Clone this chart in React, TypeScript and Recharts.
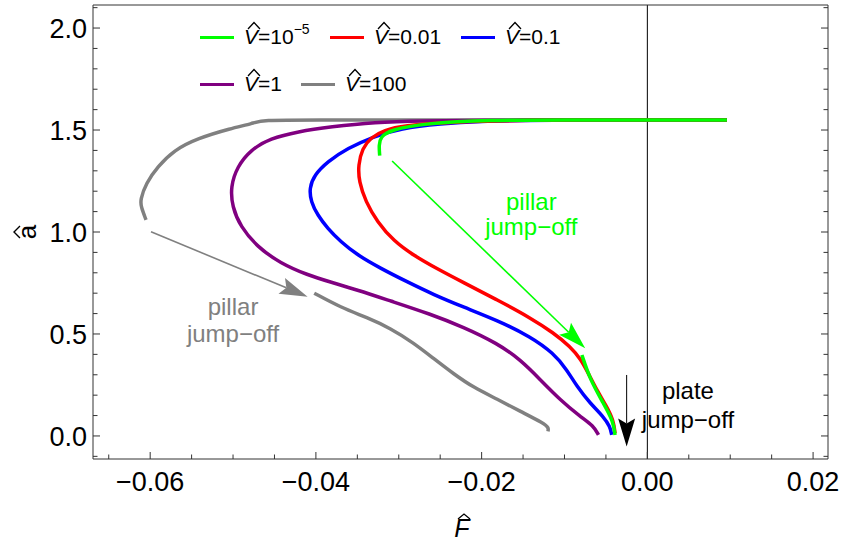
import React from "react";
import {
  LineChart,
  Line,
  XAxis,
  YAxis,
  ReferenceLine,
  ReferenceDot,
  Legend,
} from "recharts";

type Pt = [number, number];

// F-hat (x), a-hat (y)
const v100Upper: Pt[] = [
  [0.0096, 1.549], [0, 1.549], [-0.01, 1.549], [-0.02, 1.549], [-0.03, 1.549],
  [-0.04, 1.549], [-0.0467, 1.549], [-0.0475, 1.533], [-0.0503, 1.508],
  [-0.0543, 1.459], [-0.0571, 1.402], [-0.0591, 1.32], [-0.0605, 1.239],
  [-0.0612, 1.157], [-0.0611, 1.124], [-0.0605, 1.059],
];
const v100Lower: Pt[] = [
  [-0.0402, 0.7], [-0.037, 0.63], [-0.0338, 0.58], [-0.031, 0.528],
  [-0.0282, 0.456], [-0.0258, 0.38], [-0.0234, 0.305], [-0.021, 0.238],
  [-0.0181, 0.18], [-0.0153, 0.12], [-0.0125, 0.062], [-0.0119, 0.04],
  [-0.012, 0.022],
];
const v1Pts: Pt[] = [
  [0.0096, 1.549], [0, 1.549], [-0.01, 1.549], [-0.02, 1.548], [-0.027, 1.545],
  [-0.033, 1.539], [-0.0382, 1.516], [-0.0422, 1.492], [-0.0455, 1.459],
  [-0.0479, 1.402], [-0.0495, 1.32], [-0.0503, 1.222], [-0.0501, 1.124],
  [-0.0491, 1.026], [-0.0471, 0.928], [-0.0443, 0.847], [-0.041, 0.789],
  [-0.0382, 0.754], [-0.035, 0.716], [-0.031, 0.662], [-0.0262, 0.598],
  [-0.0222, 0.534], [-0.0181, 0.454], [-0.0153, 0.373], [-0.0129, 0.275],
  [-0.0105, 0.176], [-0.0081, 0.095], [-0.0065, 0.05], [-0.0059, 0.005],
];
const v01Pts: Pt[] = [
  [0.0096, 1.549], [0, 1.549], [-0.008, 1.549], [-0.015, 1.547], [-0.02, 1.544],
  [-0.025, 1.531], [-0.0298, 1.508], [-0.033, 1.469], [-0.0362, 1.41],
  [-0.0386, 1.345], [-0.0402, 1.279], [-0.0408, 1.214], [-0.0406, 1.149],
  [-0.0398, 1.083], [-0.0386, 1.018], [-0.037, 0.952], [-0.035, 0.887],
  [-0.0322, 0.822], [-0.029, 0.756], [-0.0258, 0.693], [-0.0222, 0.632],
  [-0.0181, 0.567], [-0.0141, 0.487], [-0.0113, 0.405], [-0.0097, 0.324],
  [-0.0085, 0.242], [-0.0069, 0.16], [-0.0053, 0.095], [-0.0045, 0.046],
  [-0.0043, 0.005],
];
const v001Pts: Pt[] = [
  [0.0096, 1.549], [0, 1.549], [-0.008, 1.549], [-0.014, 1.548], [-0.02, 1.543],
  [-0.025, 1.535], [-0.0292, 1.522], [-0.0318, 1.5], [-0.0334, 1.462],
  [-0.0344, 1.41], [-0.0349, 1.328], [-0.0348, 1.247], [-0.034, 1.149],
  [-0.0326, 1.05], [-0.0306, 0.955], [-0.0282, 0.885], [-0.0254, 0.82],
  [-0.0222, 0.752], [-0.0181, 0.667], [-0.0141, 0.579], [-0.0113, 0.505],
  [-0.0093, 0.438], [-0.008, 0.375], [-0.0071, 0.305], [-0.0061, 0.225],
  [-0.0049, 0.144], [-0.0041, 0.078], [-0.0039, 0.013],
];
const v1e5Upper: Pt[] = [
  [0.0096, 1.549], [0, 1.549], [-0.01, 1.549], [-0.019, 1.549], [-0.027, 1.533],
  [-0.031, 1.5], [-0.0322, 1.467], [-0.0324, 1.426], [-0.0323, 1.374],
];
const v1e5Lower: Pt[] = [
  [-0.0079, 0.397], [-0.0069, 0.275], [-0.0053, 0.16], [-0.0041, 0.07],
  [-0.0039, 0.005],
];

const xTicks = [
  -0.065, -0.06, -0.055, -0.05, -0.045, -0.04, -0.035, -0.03, -0.025, -0.02,
  -0.015, -0.01, -0.005, 0, 0.005, 0.01, 0.015, 0.02,
];
const yTicks = [
  -0.1, 0, 0.1, 0.2, 0.3, 0.4, 0.5, 0.6, 0.7, 0.8, 0.9, 1, 1.1, 1.2, 1.3, 1.4,
  1.5, 1.6, 1.7, 1.8, 1.9, 2, 2.1,
];
const xMajor = [-0.06, -0.04, -0.02, 0, 0.02];
const yMajor = [0, 0.5, 1, 1.5, 2];

// arrows: [from, to]
const greenArrow: Pt[] = [[-0.0308, 1.348], [-0.0075, 0.43]];
const grayArrow: Pt[] = [[-0.0599, 1.001], [-0.041, 0.683]];
const plateArrow: Pt[] = [[-0.0025, 0.299], [-0.0025, -0.052]];

const GREEN = "#00ff00";
const RED = "#ff0000";
const BLUE = "#0000ff";
const PURPLE = "#800080";
const GRAY = "#808080";
const FRAME = "#333";
const FONT = "'Liberation Sans', Arial, sans-serif";

// draw order: gray at the bottom, green on top
const series = [
  { name: "100", color: GRAY, segs: [v100Upper, v100Lower] },
  { name: "1", color: PURPLE, segs: [v1Pts] },
  { name: "0.1", color: BLUE, segs: [v01Pts] },
  { name: "0.01", color: RED, segs: [v001Pts] },
  { name: "10^-5", color: GREEN, segs: [v1e5Upper, v1e5Lower] },
];

const legendLayout = [
  { base: "10", sup: "\u22125", color: GREEN, x: 200, y: 37 },
  { base: "0.01", sup: "", color: RED, x: 330, y: 37 },
  { base: "0.1", sup: "", color: BLUE, x: 461, y: 37 },
  { base: "1", sup: "", color: PURPLE, x: 200, y: 84 },
  { base: "100", sup: "", color: GRAY, x: 301, y: 84 },
];

const toRows = (segs: Pt[][]) =>
  segs.flatMap((seg, i) => [
    ...(i > 0 ? [{ F: seg[0][0], a: null as number | null }] : []),
    ...seg.map(([F, a]) => ({ F, a: a as number | null })),
  ]);

const isMajor = (v: number, list: number[]) =>
  list.some((m) => Math.abs(m - v) < 1e-9);

const fmtX = (v: number) => {
  if (Math.abs(v) < 1e-9) return "0.00";
  const s = Math.abs(v).toFixed(2);
  return v < 0 ? "\u2212" + s : s;
};

const BottomTick = (p: any) => {
  const v = p.payload.value;
  const major = isMajor(v, xMajor);
  return (
    <g>
      <line x1={p.x} x2={p.x} y1={p.y} y2={p.y - (major ? 7 : 4.5)} stroke={FRAME} />
      {major && (
        <text x={p.x} y={p.y + 32} textAnchor="middle" fontSize={27} fontFamily={FONT} fill="#000">
          {fmtX(v)}
        </text>
      )}
    </g>
  );
};

const TopTick = (p: any) => {
  const major = isMajor(p.payload.value, xMajor);
  return <line x1={p.x} x2={p.x} y1={p.y} y2={p.y + (major ? 7 : 4.5)} stroke={FRAME} />;
};

const LeftTick = (p: any) => {
  const v = p.payload.value;
  const major = isMajor(v, yMajor);
  return (
    <g>
      <line x1={p.x} x2={p.x + (major ? 7 : 4.5)} y1={p.y} y2={p.y} stroke={FRAME} />
      {major && (
        <text x={p.x - 6} y={p.y + 10} textAnchor="end" fontSize={27} fontFamily={FONT} fill="#000">
          {v.toFixed(1)}
        </text>
      )}
    </g>
  );
};

const RightTick = (p: any) => {
  const major = isMajor(p.payload.value, yMajor);
  return <line x1={p.x} x2={p.x - (major ? 7 : 4.5)} y1={p.y} y2={p.y} stroke={FRAME} />;
};

const arrowShape = (color: string, width: number) => (p: any) => {
  const { x1, y1, x2, y2 } = p;
  const dx = x2 - x1;
  const dy = y2 - y1;
  const len = Math.hypot(dx, dy) || 1;
  const ux = dx / len;
  const uy = dy / len;
  const hl = 28;
  const hw = 8.5;
  const notch = 5;
  const bx = x2 - ux * hl;
  const by = y2 - uy * hl;
  const nx = -uy;
  const ny = ux;
  const pts = [
    [x2, y2],
    [bx + nx * hw, by + ny * hw],
    [bx + ux * notch, by + uy * notch],
    [bx - nx * hw, by - ny * hw],
  ]
    .map((q) => q.join(","))
    .join(" ");
  return (
    <g>
      <line x1={x1} y1={y1} x2={bx + ux * notch} y2={by + uy * notch} stroke={color} strokeWidth={width} />
      <polygon points={pts} fill={color} />
    </g>
  );
};

const textBlock = (lines: string[], color: string, gap: number) => (p: any) => (
  <g>
    {lines.map((t, i) => (
      <text
        key={i}
        x={p.cx}
        y={p.cy + i * gap}
        textAnchor="middle"
        fontSize={24}
        fontFamily={FONT}
        fill={color}
      >
        {t}
      </text>
    ))}
  </g>
);

const HatV = () => (
  <span style={{ position: "relative", fontStyle: "italic" }}>
    V
    <svg
      width={14}
      height={9}
      style={{ position: "absolute", left: 3, top: -4, overflow: "visible" }}
    >
      <polyline points="1,8 7,1.5 13,8" fill="none" stroke="#000" strokeWidth={1.3} />
    </svg>
  </span>
);

const LegendBox = () => (
  <div style={{ position: "relative", width: 843, height: 110, fontFamily: FONT }}>
    {legendLayout.map((it, i) => (
      <div
        key={i}
        style={{
          position: "absolute",
          left: it.x,
          top: it.y - 14,
          height: 28,
          display: "flex",
          alignItems: "center",
          fontSize: 21,
          color: "#000",
          whiteSpace: "nowrap",
        }}
      >
        <span style={{ display: "inline-block", width: 34, height: 3, background: it.color, marginRight: 10 }} />
        <HatV />
        <span>={it.base}</span>
        {it.sup && (
          <span style={{ fontSize: 14, position: "relative", top: -8 }}>{it.sup}</span>
        )}
      </div>
    ))}
  </div>
);

const xLabel = (p: any) => {
  const vb = p.viewBox;
  const cx = vb.x + 369;
  const by = vb.y + 78;
  return (
    <g>
      <text x={cx} y={by} textAnchor="middle" fontSize={25} fontStyle="italic" fontFamily={FONT} fill="#000">
        F
      </text>
      <polyline
        points={`${cx - 4},${by - 18} ${cx + 2},${by - 23} ${cx + 8},${by - 18}`}
        fill="none"
        stroke="#000"
        strokeWidth={1.3}
      />
    </g>
  );
};

const yLabel = (p: any) => {
  const vb = p.viewBox;
  const cx = vb.x + 29;
  const cy = vb.y + vb.height / 2;
  return (
    <g transform={`translate(${cx},${cy}) rotate(-90)`}>
      <text x={0} y={7} textAnchor="middle" fontSize={26} fontFamily={FONT} fill="#000">
        a
      </text>
      <polyline points="-6,-9 0,-15 6,-9" fill="none" stroke="#000" strokeWidth={1.4} />
    </g>
  );
};

export default function App() {
  return (
    <div style={{ position: "absolute", left: 0, top: 0, background: "#fff" }}>
      <LineChart width={843} height={541} margin={{ top: 0, right: 0, bottom: 0, left: 0 }}>
        <XAxis
          dataKey="F"
          type="number"
          domain={[-0.0669, 0.0218]}
          allowDataOverflow
          ticks={xTicks}
          interval={0}
          tickSize={0}
          tickMargin={0}
          tickLine={false}
          tick={BottomTick}
          stroke={FRAME}
          height={82}
          label={xLabel}
        />
        <XAxis
          xAxisId="top"
          orientation="top"
          type="number"
          domain={[-0.0669, 0.0218]}
          allowDataOverflow
          ticks={xTicks}
          interval={0}
          tickSize={0}
          tickMargin={0}
          tickLine={false}
          tick={TopTick}
          stroke={FRAME}
          height={5}
        />
        <YAxis
          type="number"
          domain={[-0.113, 2.113]}
          allowDataOverflow
          ticks={yTicks}
          interval={0}
          tickSize={0}
          tickMargin={0}
          tickLine={false}
          tick={LeftTick}
          stroke={FRAME}
          width={93}
          label={yLabel}
        />
        <YAxis
          yAxisId="right"
          orientation="right"
          type="number"
          domain={[-0.113, 2.113]}
          allowDataOverflow
          ticks={yTicks}
          interval={0}
          tickSize={0}
          tickMargin={0}
          tickLine={false}
          tick={RightTick}
          stroke={FRAME}
          width={15}
        />
        <ReferenceLine x={0} stroke="#000" strokeWidth={1} />
        {series.map((s) => (
          <Line
            key={s.name}
            name={s.name}
            data={toRows(s.segs)}
            dataKey="a"
            type="basis"
            stroke={s.color}
            strokeWidth={3.5}
            dot={false}
            activeDot={false}
            connectNulls={false}
            isAnimationActive={false}
          />
        ))}
        <ReferenceLine
          segment={[{ x: greenArrow[0][0], y: greenArrow[0][1] }, { x: greenArrow[1][0], y: greenArrow[1][1] }]}
          shape={arrowShape(GREEN, 1.6)}
        />
        <ReferenceLine
          segment={[{ x: grayArrow[0][0], y: grayArrow[0][1] }, { x: grayArrow[1][0], y: grayArrow[1][1] }]}
          shape={arrowShape(GRAY, 1.6)}
        />
        <ReferenceLine
          segment={[{ x: plateArrow[0][0], y: plateArrow[0][1] }, { x: plateArrow[1][0], y: plateArrow[1][1] }]}
          shape={arrowShape("#000", 1)}
        />
        <ReferenceDot x={-0.014} y={1.108} r={0} shape={textBlock(["pillar", "jump\u2212off"], GREEN, 25)} />
        <ReferenceDot x={-0.05} y={0.593} r={0} shape={textBlock(["pillar", "jump\u2212off"], GRAY, 27)} />
        <ReferenceDot x={0.0049} y={0.18} r={0} shape={textBlock(["plate", "jump\u2212off"], "#000", 29)} />
        <Legend
          verticalAlign="middle"
          align="center"
          layout="horizontal"
          content={() => <LegendBox />}
          wrapperStyle={{ left: 0, top: 0, width: 843, height: 110 }}
        />
      </LineChart>
    </div>
  );
}
